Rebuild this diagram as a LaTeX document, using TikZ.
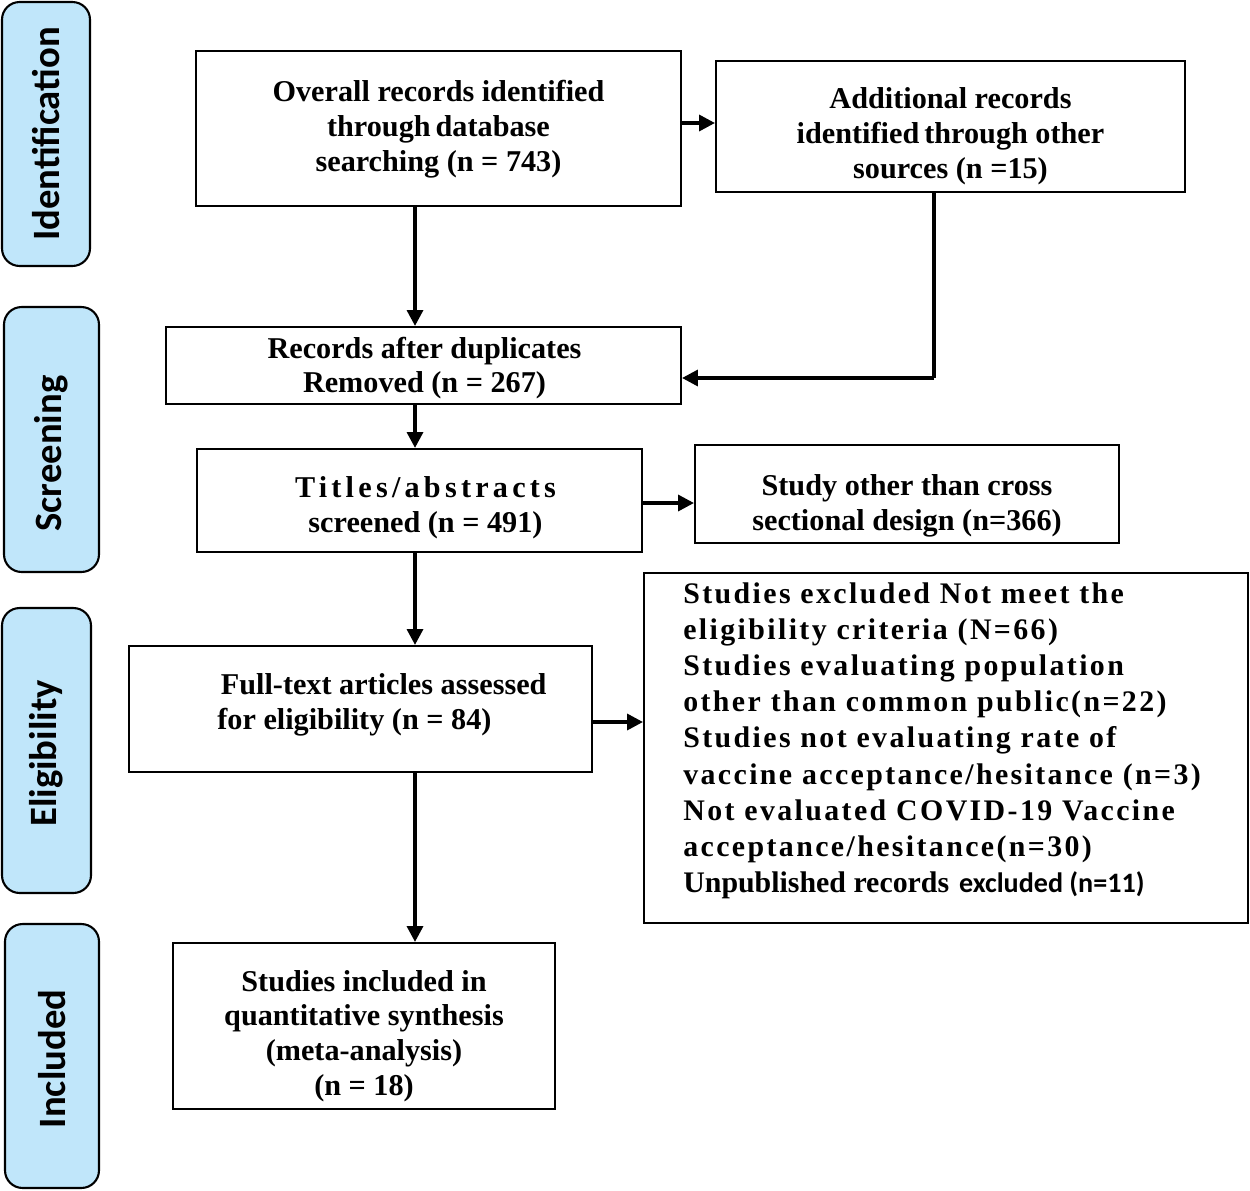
\documentclass[tikz,border=0pt]{standalone}
\usepackage{fontspec}
\setmainfont{Liberation Serif}
\newfontfamily\sidefont{Carlito}
\newfontfamily\spacedfont[LetterSpace=8]{Liberation Serif}
\newfontfamily\widefont[LetterSpace=14]{Liberation Serif}
\usetikzlibrary{arrows.meta}
\definecolor{sideblue}{RGB}{192,230,250}
\tikzset{
  box/.style={draw, line width=1.2pt, inner sep=0pt},
  txt/.style={align=center, inner sep=0pt,
    font=\fontsize{17.2}{19.8}\selectfont\bfseries},
  side/.style={draw, line width=1.2pt, fill=sideblue, rounded corners=10pt},
  sidetext/.style={rotate=90, font=\fontsize{22}{26}\sidefont\bfseries},
  arr/.style={line width=2pt, -{Triangle[length=9pt,width=9pt]}},
}
\begin{document}
\begin{tikzpicture}[x=0.02cm,y=-0.02cm]
\useasboundingbox (0,0) rectangle (1250,1190);
% sidebars
\node[side, minimum width=1.76cm, minimum height=5.28cm] (s1) at (46,134) {};
\node[sidetext] (t1) at (s1.center) {Identification};
\node[side, minimum width=1.9cm, minimum height=5.3cm] (s2) at (51.5,439.5) {};
\node[sidetext] (t2) at ([yshift=-0.28cm]s2.center) {Screening};
\node[side, minimum width=1.78cm, minimum height=5.7cm] (s3) at (46.5,750.5) {};
\node[sidetext] (t3) at ([yshift=-0.06cm]s3.center) {Eligibility};
\node[side, minimum width=1.88cm, minimum height=5.28cm] (s4) at (52,1056) {};
\node[sidetext] (t4) at ([yshift=-0.06cm]s4.center) {Included};
% boxes
\node[box, minimum width=9.7cm, minimum height=3.1cm] (a) at (438.5,128.5) {};
\node[txt] (at) at ([yshift=-0.01cm]a.center)
  {Overall records identified\\ through\,database\\ searching (n = 743)};
\node[box, minimum width=9.38cm, minimum height=2.62cm] (b) at (950.5,126.5) {};
\node[txt] (bt) at ([yshift=-0.2cm]b.center)
  {Additional records\\ identified\,through other\\ sources (n =15)};
\node[box, minimum width=10.3cm, minimum height=1.54cm] (c) at (423.5,365.5) {};
\node[txt] (ct) at ([xshift=0.02cm,yshift=-0.05cm]c.center)
  {Records after duplicates\\ Removed (n = 267)};
\node[box, minimum width=8.9cm, minimum height=2.06cm] (d) at (419.5,500.5) {};
\node[txt] (dt) at ([xshift=0.12cm,yshift=-0.14cm]d.center)
  {{\widefont Titles/abstracts}\\ screened (n = 491)};
\node[box, minimum width=8.48cm, minimum height=1.96cm] (e) at (907,494) {};
\node[txt] (et) at ([yshift=-0.24cm]e.center)
  {Study other than cross\\ sectional design (n=366)};
\node[box, minimum width=9.26cm, minimum height=2.52cm] (f) at (360.5,709) {};
\node[txt, align=left, anchor=west] (ft) at (217,705)
  {\hspace*{2pt}Full-text articles assessed\\ for eligibility (n = 84)};
\node[box, minimum width=12.08cm, minimum height=7cm] (g) at (946,748) {};
\node[txt, align=left, anchor=north west,
  font=\fontsize{17}{20.6}\selectfont\bfseries\spacedfont] (gt) at (683,582)
  {Studies excluded Not meet the\\ eligibility criteria (N=66)\\ Studies evaluating population\\
   other than common public(n=22)\\ Studies not evaluating rate of\\ vaccine acceptance/hesitance (n=3)\\
   Not evaluated COVID-19 Vaccine\\ acceptance/hesitance(n=30)\\
   {\rmfamily Unpublished records} {\sidefont\fontsize{16}{20.6}\selectfont excluded (n=11)}};
\node[box, minimum width=7.64cm, minimum height=3.32cm] (h) at (364,1026) {};
\node[txt] (ht) at ([yshift=-0.2cm]h.center)
  {Studies included in\\ quantitative synthesis\\ (meta-analysis)\\ (n = 18)};
% connectors
\coordinate (bc) at (934,378);
\draw[arr] (a.east |- 0,123) -- (b.west |- 0,123);
\draw[arr] (a.south -| 415,0) -- (c.north -| 415,0);
\draw[line width=2pt] (b.south -| bc) -- (bc);
\draw[arr] (bc) -- (c.east |- bc);
\draw[arr] (c.south -| 415,0) -- (d.north -| 415,0);
\draw[arr] (d.east |- 0,503) -- (e.west |- 0,503);
\draw[arr] (d.south -| 415,0) -- (f.north -| 415,0);
\draw[arr] (f.east |- 0,722) -- (g.west |- 0,722);
\draw[arr] (f.south -| 415,0) -- (h.north -| 415,0);
\end{tikzpicture}
\end{document}
